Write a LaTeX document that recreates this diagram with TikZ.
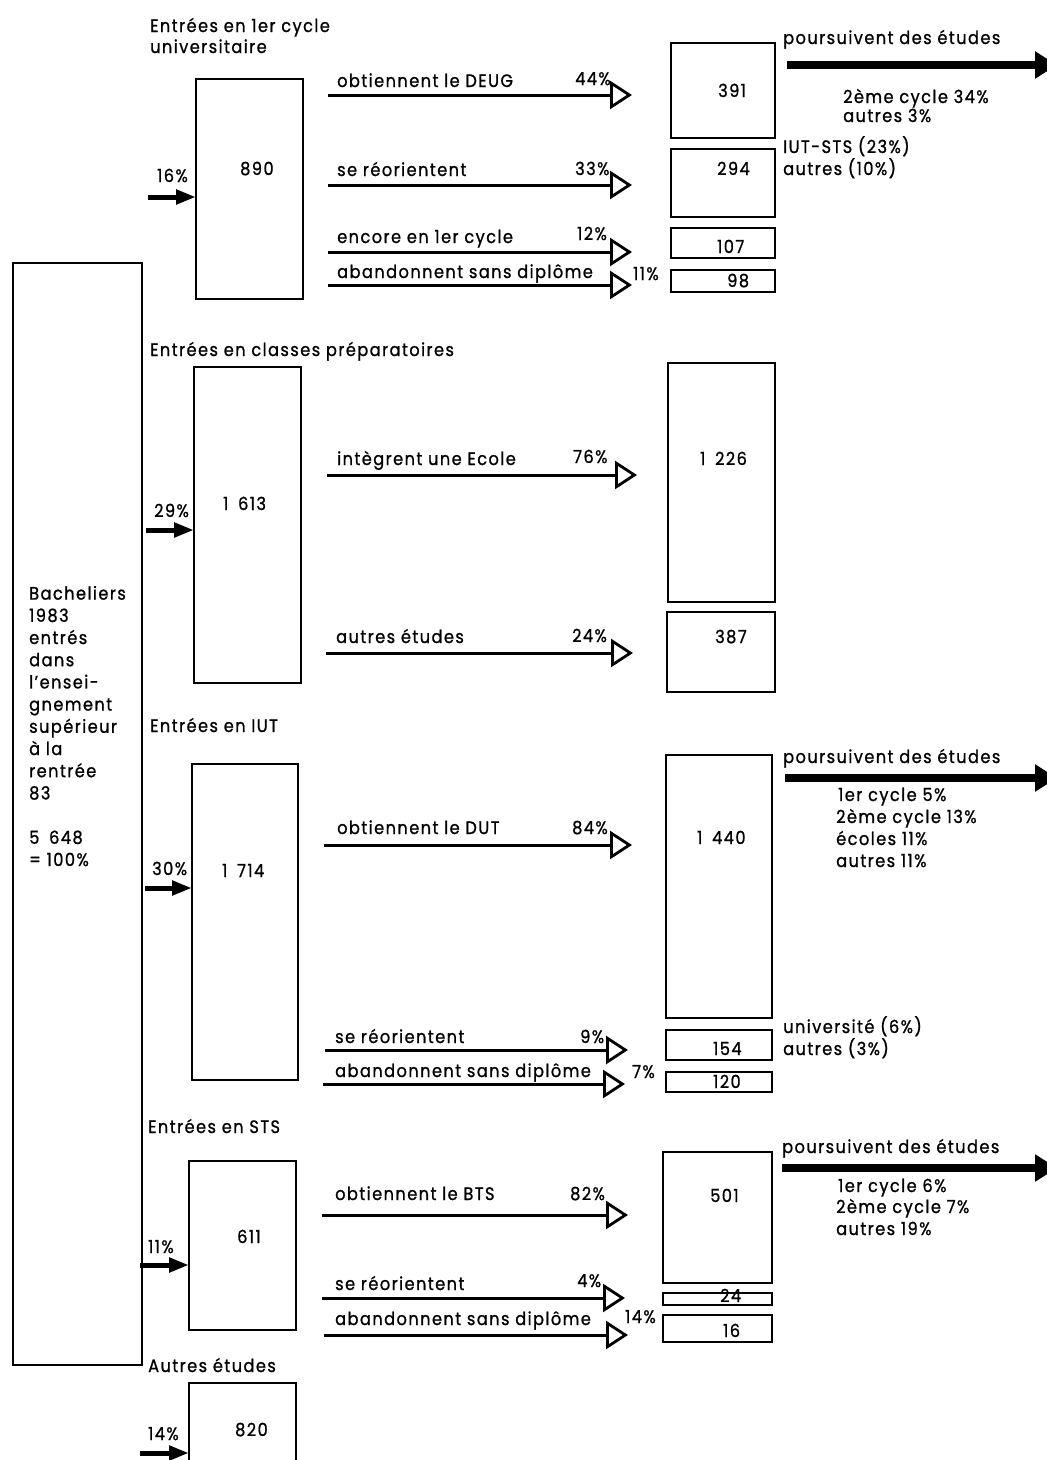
\documentclass[tikz,border=0pt]{standalone}
\usepackage{fontspec}
\setmainfont{Poppins}[LetterSpace=8,FakeBold=1,FakeStretch=0.9]
\usetikzlibrary{arrows.meta,fit}
\newcommand\fsz{\fontsize{18}{22.2}\selectfont}
\newcommand\lab[4]{\node[txt] (#1) at (#2,#3) {#4};}
\newcommand\tsp{ \hspace{4pt}}
\tikzset{
  bx/.style={draw, line width=2.8pt, inner sep=0pt, outer sep=0pt},
  txt/.style={anchor=base west, inner sep=0pt, font=\fsz},
  flow/.style={line width=3pt, -{Triangle[open, length=22pt, width=28pt, line width=2.8pt]}},
  inarr/.style={line width=5pt, -{Triangle[length=20pt, width=14pt]}},
  outarr/.style={line width=8pt, -{Triangle[length=22pt, width=26pt]}},
}
\begin{document}
\begin{tikzpicture}[x=1pt,y=-1pt]
\useasboundingbox (0,0) rectangle (1047,1460);
\clip (0,0) rectangle (1047,1460);
% ---------- left box
\node[bx, fit={(13,263) (142,1365)}] (L) {};
\node[txt, align=left] (Ltxt) at (29,866) {Bacheliers\\1983\\entrés\\dans\\l'ensei-\\gnement\\supérieur\\à la\\rentrée\\83\\[22.2pt]5\tsp 648\\= 100\%};
% ---------- section 1
\lab{t1a}{150}{32}{Entrées en 1er cycle}
\lab{t1b}{150}{53}{universitaire}
\node[bx, fit={(196,79) (303,299)}] (b1) {};
\lab{n1}{240}{175}{890}
\lab{p1}{157}{182}{16\%}
\coordinate (i1) at (148,197);
\draw[inarr] (i1) -- (b1.west |- i1);
\lab{f11}{337}{87}{obtiennent le DEUG}
\lab{q11}{575}{85}{44\%}
\coordinate (f11s) at (328,95); \coordinate (f11e) at (632,95);
\draw[flow] (f11s) -- (f11e);
\lab{f12}{337}{176}{se réorientent}
\lab{q12}{575}{175}{33\%}
\coordinate (f12s) at (328,185); \coordinate (f12e) at (632,185);
\draw[flow] (f12s) -- (f12e);
\lab{f13}{337}{243}{encore en 1er cycle}
\lab{q13}{577}{240}{12\%}
\coordinate (f13s) at (328,252); \coordinate (f13e) at (632,252);
\draw[flow] (f13s) -- (f13e);
\lab{f14}{337}{278}{abandonnent sans diplôme}
\lab{q14}{633}{280}{11\%}
\coordinate (f14s) at (328,285); \coordinate (f14e) at (632,285);
\draw[flow] (f14s) -- (f14e);
\node[bx, fit={(671,43) (775,138)}] (r11) {};
\lab{m11}{718}{97}{391}
\node[bx, fit={(671,149) (775,217)}] (r12) {};
\lab{m12}{717}{175}{294}
\node[bx, fit={(671,228) (775,258)}] (r13) {};
\lab{m13}{717}{253}{107}
\node[bx, fit={(671,270) (775,292)}] (r14) {};
\lab{m14}{727}{287}{98}
\lab{s1}{783}{44}{poursuivent des études}
\coordinate (o1s) at (787,65); \coordinate (o1e) at (1057,65);
\draw[outarr] (o1s) -- (o1e);
\lab{s1a}{843}{103}{2ème cycle 34\%}
\lab{s1b}{843}{122}{autres 3\%}
\lab{s1c}{783}{153}{IUT-STS (23\%)}
\lab{s1d}{783}{175}{autres (10\%)}
% ---------- section 2
\lab{t2}{150}{356}{Entrées en classes préparatoires}
\node[bx, fit={(194,367) (301,683)}] (b2) {};
\lab{n2}{223}{510}{1\tsp 613}
\lab{p2}{154}{517}{29\%}
\coordinate (i2) at (146,530);
\draw[inarr] (i2) -- (b2.west |- i2);
\lab{f21}{337}{465}{intègrent une Ecole}
\lab{q21}{573}{463}{76\%}
\coordinate (f21s) at (327,475); \coordinate (f21e) at (637,475);
\draw[flow] (f21s) -- (f21e);
\lab{f22}{336}{643}{autres études}
\lab{q22}{572}{642}{24\%}
\coordinate (f22s) at (326,653); \coordinate (f22e) at (633,653);
\draw[flow] (f22s) -- (f22e);
\node[bx, fit={(668,363) (775,602)}] (r21) {};
\lab{m21}{700}{465}{1\tsp 226}
\node[bx, fit={(667,612) (775,692)}] (r22) {};
\lab{m22}{715}{643}{387}
% ---------- section 3
\lab{t3}{150}{732}{Entrées en IUT}
\node[bx, fit={(192,764) (298,1080)}] (b3) {};
\lab{n3}{222}{877}{1\tsp 714}
\lab{p3}{152}{875}{30\%}
\coordinate (i3) at (145,888);
\draw[inarr] (i3) -- (b3.west |- i3);
\lab{f31}{337}{834}{obtiennent le DUT}
\lab{q31}{572}{834}{84\%}
\coordinate (f31s) at (324,845); \coordinate (f31e) at (632,845);
\draw[flow] (f31s) -- (f31e);
\lab{f32}{335}{1043}{se réorientent}
\lab{q32}{580}{1043}{9\%}
\coordinate (f32s) at (325,1050); \coordinate (f32e) at (628,1050);
\draw[flow] (f32s) -- (f32e);
\lab{f33}{335}{1077}{abandonnent sans diplôme}
\lab{q33}{632}{1078}{7\%}
\coordinate (f33s) at (323,1084); \coordinate (f33e) at (625,1084);
\draw[flow] (f33s) -- (f33e);
\node[bx, fit={(666,755) (772,1018)}] (r31) {};
\lab{m31}{697}{844}{1\tsp 440}
\node[bx, fit={(666,1030) (772,1060)}] (r32) {};
\lab{m32}{713}{1055}{154}
\node[bx, fit={(666,1072) (772,1092)}] (r33) {};
\lab{m33}{713}{1088}{120}
\lab{s3}{783}{763}{poursuivent des études}
\coordinate (o3s) at (785,778); \coordinate (o3e) at (1057,778);
\draw[outarr] (o3s) -- (o3e);
\lab{s3a}{838}{801}{1er cycle 5\%}
\lab{s3b}{836}{823}{2ème cycle 13\%}
\lab{s3c}{836}{845}{écoles 11\%}
\lab{s3d}{836}{867}{autres 11\%}
\lab{s3e}{783}{1033}{université (6\%)}
\lab{s3f}{783}{1055}{autres (3\%)}
% ---------- section 4
\lab{t4}{148}{1133}{Entrées en STS}
\node[bx, fit={(189,1161) (296,1330)}] (b4) {};
\lab{n4}{237}{1243}{611}
\lab{p4}{148}{1253}{11\%}
\coordinate (i4) at (140,1265);
\draw[inarr] (i4) -- (b4.west |- i4);
\lab{f41}{335}{1200}{obtiennent le BTS}
\lab{q41}{570}{1200}{82\%}
\coordinate (f41s) at (322,1215); \coordinate (f41e) at (628,1215);
\draw[flow] (f41s) -- (f41e);
\lab{f42}{335}{1290}{se réorientent}
\lab{q42}{577}{1287}{4\%}
\coordinate (f42s) at (322,1298); \coordinate (f42e) at (625,1298);
\draw[flow] (f42s) -- (f42e);
\lab{f43}{335}{1325}{abandonnent sans diplôme}
\lab{q43}{625}{1323}{14\%}
\coordinate (f43s) at (324,1335); \coordinate (f43e) at (628,1335);
\draw[flow] (f43s) -- (f43e);
\node[bx, fit={(663,1152) (772,1283)}] (r41) {};
\lab{m41}{710}{1202}{501}
\lab{m42}{720}{1302}{24}
\node[bx, fit={(663,1293) (772,1305)}] (r42) {};
\node[bx, fit={(663,1315) (772,1342)}] (r43) {};
\lab{m43}{723}{1337}{16}
\lab{s4}{782}{1153}{poursuivent des études}
\coordinate (o4s) at (782,1168); \coordinate (o4e) at (1057,1168);
\draw[outarr] (o4s) -- (o4e);
\lab{s4a}{838}{1192}{1er cycle 6\%}
\lab{s4b}{836}{1213}{2ème cycle 7\%}
\lab{s4c}{836}{1235}{autres 19\%}
% ---------- section 5
\lab{t5}{148}{1372}{Autres études}
\node[bx, fit={(189,1383) (296,1475)}] (b5) {};
\lab{n5}{235}{1436}{820}
\lab{p5}{148}{1440}{14\%}
\coordinate (i5) at (140,1453);
\draw[inarr] (i5) -- (b5.west |- i5);
\end{tikzpicture}
\end{document}
